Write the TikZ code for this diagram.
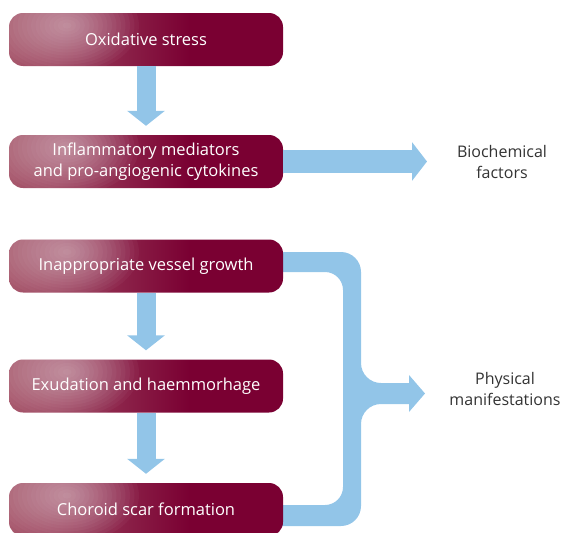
\documentclass[tikz,border=0pt]{standalone}
\usepackage{fontspec}
\setmainfont{Open Sans}
\usetikzlibrary{arrows.meta}
\usetikzlibrary{backgrounds}
\usetikzlibrary{calc}

\definecolor{boxL}{HTML}{A85A6E}
\definecolor{boxD}{HTML}{7A0032}
\definecolor{flow}{HTML}{92C5E8}
\definecolor{labeltext}{HTML}{333333}
\pgfdeclarehorizontalshading{boxshade}{100bp}{color(0bp)=(boxL); color(25bp)=(boxL); color(58bp)=(boxD); color(100bp)=(boxD)}

\tikzset{
  stage/.style={rounded corners=14, minimum width=274, minimum height=53, inner sep=0,
    shading=boxshade, text=white, align=center, font=\fontsize{16.5}{21}\selectfont,
    path picture={\foreach \r in {1,...,16}
      \fill[white, opacity=0.035]
        ($(path picture bounding box.west)+(58,-14)$) ellipse ({4.5*\r} and {3*\r});}},
  result/.style={text=labeltext, align=center, font=\fontsize{16}{21}\selectfont},
  downarrow/.style={draw=flow, line width=19, -{Triangle[width=37pt,length=15pt]}, shorten >=9pt},
  sidearrow/.style={draw=flow, line width=23, -{Triangle[width=38pt,length=15pt]}}
}

\begin{document}
\begin{tikzpicture}[x=1pt, y=-1pt]
  \useasboundingbox (0,0) rectangle (563,533);

  \node[stage] at (146, 39.5)  (ox)     {Oxidative stress};
  \node[stage] at (146, 161.5) (infl)   {Inflammatory mediators\\and pro-angiogenic cytokines};
  \node[stage] at (146, 266)   (vessel) {Inappropriate vessel growth};
  \node[stage] at (146, 386)   (exud)   {Exudation and haemmorhage};
  \node[stage] at (146, 509.5) (scar)   {Choroid scar formation};

  \node[result] at (502, 161.5) (bio)  {Biochemical\\factors};
  \node[result] at (505, 389)   (phys) {Physical\\manifestations};

  \coordinate (bioTip)  at (427, 161.5);
  \coordinate (physTip) at (425, 393.5);

  \draw (ox) edge[downarrow] (infl);
  \draw (vessel) edge[downarrow] (exud);
  \draw (exud) edge[downarrow] (scar);
  \draw (infl) edge[sidearrow] (bioTip);

  % bracket joining vessel growth and scar to the physical side
  \begin{scope}[on background layer]
    \fill[flow] (250,252) -- (341,252) arc (-90:0:20) -- (361,363) arc (180:90:20)
      -- (409,383) -- (409,375) -- (physTip) -- (409,412) -- (409,404) -- (381,404)
      arc (-90:-180:20) -- (361,506) arc (0:90:20) -- (250,526) -- (250,505)
      -- (325,505) arc (90:0:18) -- (343,290) arc (0:-90:18) -- (250,272) -- cycle;
  \end{scope}
\end{tikzpicture}
\end{document}
